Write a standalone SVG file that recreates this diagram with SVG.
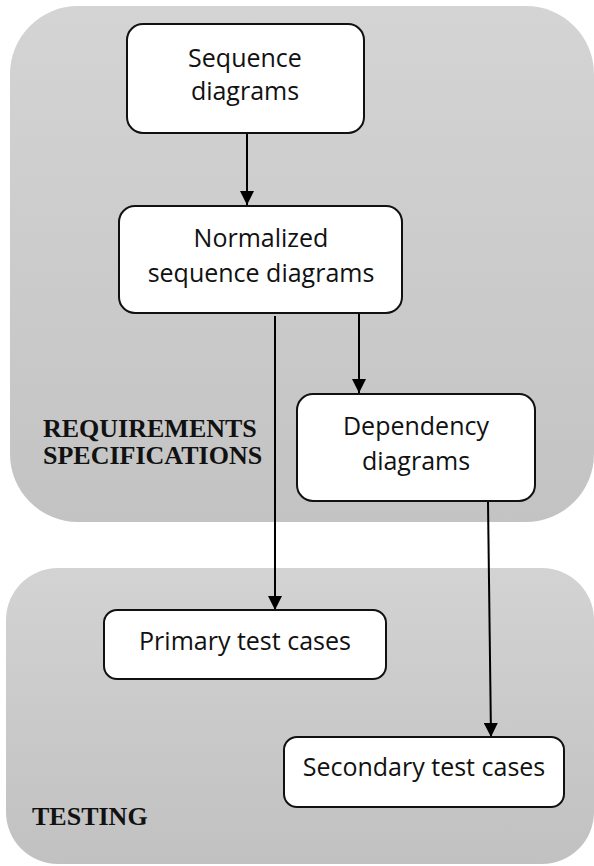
<svg xmlns="http://www.w3.org/2000/svg" width="594" height="866" viewBox="0 0 594 866">
<style>
.box{fill:#fff;stroke:#111;stroke-width:2}
.lbl{font-family:"Open Sans","Noto Sans",sans-serif;font-size:25px;fill:#111;text-anchor:middle}
.sec{font-family:"Liberation Serif","Times New Roman",serif;font-size:26px;font-weight:bold;fill:#111}
.edge{stroke:#000;stroke-width:2;fill:none;marker-end:url(#ah)}
</style>
<defs>
<linearGradient id="g1" x1="0" y1="0" x2="0" y2="1">
<stop offset="0" stop-color="#d4d4d4"/>
<stop offset="1" stop-color="#c3c3c3"/>
</linearGradient>
<linearGradient id="g2" x1="0" y1="0" x2="0" y2="1">
<stop offset="0" stop-color="#d3d3d3"/>
<stop offset="1" stop-color="#c1c1c1"/>
</linearGradient>
<marker id="ah" viewBox="0 0 14 14" refX="14" refY="7" markerWidth="14" markerHeight="14" markerUnits="userSpaceOnUse" orient="auto">
<path d="M0,0 L14,7 L0,14 Z" fill="#000"/>
</marker>
</defs>
<rect width="594" height="866" fill="#fff"/>
<g id="requirements">
<rect x="10" y="6" width="584" height="516" rx="68" ry="68" fill="url(#g1)"/>
<text class="sec" x="43" y="437">REQUIREMENTS</text>
<text class="sec" x="43" y="464">SPECIFICATIONS</text>
</g>
<g id="testing">
<rect x="6" y="568" width="588" height="296" rx="52" ry="52" fill="url(#g2)"/>
<text class="sec" x="32" y="825">TESTING</text>
</g>
<g id="connectors">
<line class="edge" x1="247" y1="133" x2="247" y2="205"/>
<line class="edge" x1="359" y1="314" x2="359" y2="393"/>
<line class="edge" x1="275" y1="316" x2="275" y2="610"/>
<line class="edge" x1="488" y1="502" x2="491" y2="737"/>
</g>
<g id="seq">
<rect class="box" x="127" y="24" width="237" height="109" rx="16"/>
<text class="lbl" x="245" y="67">Sequence</text>
<text class="lbl" x="245" y="100">diagrams</text>
</g>
<g id="norm">
<rect class="box" x="119" y="206" width="283" height="107" rx="16"/>
<text class="lbl" x="261" y="247">Normalized</text>
<text class="lbl" x="261" y="282">sequence diagrams</text>
</g>
<g id="dep">
<rect class="box" x="297" y="394" width="238" height="107" rx="16"/>
<text class="lbl" x="416" y="435">Dependency</text>
<text class="lbl" x="416" y="470">diagrams</text>
</g>
<g id="primary">
<rect class="box" x="104" y="610" width="282" height="69" rx="13"/>
<text class="lbl" x="245" y="650">Primary test cases</text>
</g>
<g id="secondary">
<rect class="box" x="284" y="737" width="280" height="70" rx="13"/>
<text class="lbl" x="424" y="776">Secondary test cases</text>
</g>
</svg>
